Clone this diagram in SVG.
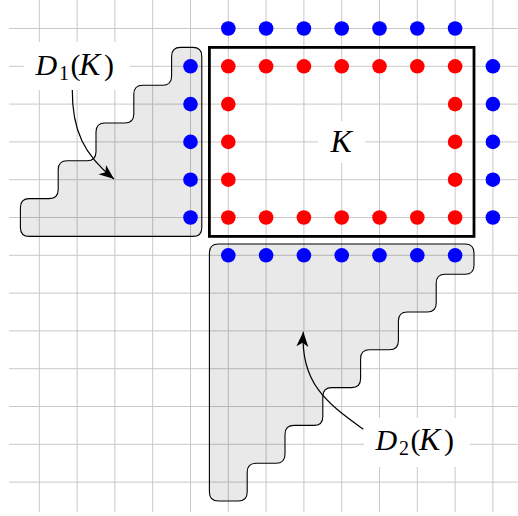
<svg xmlns="http://www.w3.org/2000/svg" width="518" height="516" viewBox="0 0 518 516">
<defs>
<style>
.grid line{stroke:#c8c8c8;stroke-width:1}
.region{fill:#000;fill-opacity:0.085;stroke:#000;stroke-width:1.1;stroke-linejoin:round}
.red{fill:#ff0000}
.blue{fill:#0000ff}
.lbl{font-family:"Liberation Serif","DejaVu Serif",serif;font-size:30px;fill:#000}
.it{font-style:italic}
.big{font-size:32px}
.sub{font-size:20px}
.box{fill:#fff}
.conn{fill:none;stroke:#000;stroke-width:1.2}
</style>
<marker id="stealth" viewBox="0 0 16 14" refX="15" refY="7" markerWidth="16" markerHeight="14" markerUnits="userSpaceOnUse" orient="auto">
<path d="M15,7 L0,1 L4,7 L0,13 Z" fill="#000"/>
</marker>
</defs>
<rect width="518" height="516" fill="#fff"/>
<g id="grid" class="grid">
<line x1="39.3" y1="0" x2="39.3" y2="511.7"/>
<line x1="77.1" y1="0" x2="77.1" y2="511.7"/>
<line x1="114.9" y1="0" x2="114.9" y2="511.7"/>
<line x1="152.7" y1="0" x2="152.7" y2="511.7"/>
<line x1="190.5" y1="0" x2="190.5" y2="511.7"/>
<line x1="228.3" y1="0" x2="228.3" y2="511.7"/>
<line x1="266.1" y1="0" x2="266.1" y2="511.7"/>
<line x1="303.9" y1="0" x2="303.9" y2="511.7"/>
<line x1="341.7" y1="0" x2="341.7" y2="511.7"/>
<line x1="379.5" y1="0" x2="379.5" y2="511.7"/>
<line x1="417.3" y1="0" x2="417.3" y2="511.7"/>
<line x1="455.1" y1="0" x2="455.1" y2="511.7"/>
<line x1="492.9" y1="0" x2="492.9" y2="511.7"/>
<line x1="9" y1="28.5" x2="518" y2="28.5"/>
<line x1="9" y1="66.3" x2="518" y2="66.3"/>
<line x1="9" y1="104.1" x2="518" y2="104.1"/>
<line x1="9" y1="141.9" x2="518" y2="141.9"/>
<line x1="9" y1="179.7" x2="518" y2="179.7"/>
<line x1="9" y1="217.5" x2="518" y2="217.5"/>
<line x1="9" y1="255.3" x2="518" y2="255.3"/>
<line x1="9" y1="293.1" x2="518" y2="293.1"/>
<line x1="9" y1="330.9" x2="518" y2="330.9"/>
<line x1="9" y1="368.7" x2="518" y2="368.7"/>
<line x1="9" y1="406.5" x2="518" y2="406.5"/>
<line x1="9" y1="444.3" x2="518" y2="444.3"/>
<line x1="9" y1="482.1" x2="518" y2="482.1"/>
</g>
<g id="D1-region">
<path class="region" d="M192.8,47.4 L180.6,47.4 Q171.6,47.4 171.6,56.4 L171.6,76.2 Q171.6,85.2 162.6,85.2 L142.8,85.2 Q133.8,85.2 133.8,94.2 L133.8,114 Q133.8,123 124.8,123 L105,123 Q96,123 96,132 L96,151.8 Q96,160.8 87,160.8 L67.2,160.8 Q58.2,160.8 58.2,169.8 L58.2,189.6 Q58.2,198.6 49.2,198.6 L29.4,198.6 Q20.4,198.6 20.4,207.6 L20.4,227.4 Q20.4,236.4 29.4,236.4 L192.8,236.4 Q201.8,236.4 201.8,227.4 L201.8,56.4 Q201.8,47.4 192.8,47.4 Z"/>
</g>
<g id="D2-region">
<path class="region" d="M218.4,244 L465,244 Q474,244 474,253 L474,265.2 Q474,274.2 465,274.2 L445.2,274.2 Q436.2,274.2 436.2,283.2 L436.2,303 Q436.2,312 427.2,312 L407.4,312 Q398.4,312 398.4,321 L398.4,340.8 Q398.4,349.8 389.4,349.8 L369.6,349.8 Q360.6,349.8 360.6,358.8 L360.6,378.6 Q360.6,387.6 351.6,387.6 L331.8,387.6 Q322.8,387.6 322.8,396.6 L322.8,416.4 Q322.8,425.4 313.8,425.4 L294,425.4 Q285,425.4 285,434.4 L285,454.2 Q285,463.2 276,463.2 L256.2,463.2 Q247.2,463.2 247.2,472.2 L247.2,492 Q247.2,501 238.2,501 L218.4,501 Q209.4,501 209.4,492 L209.4,253 Q209.4,244 218.4,244 Z"/>
</g>
<g id="K-set">
<rect x="209.4" y="47.4" width="264.6" height="189" fill="none" stroke="#000" stroke-width="2.8"/>
</g>
<g id="red-dots" class="red">
<circle cx="228.3" cy="66.3" r="7.3"/>
<circle cx="266.1" cy="66.3" r="7.3"/>
<circle cx="303.9" cy="66.3" r="7.3"/>
<circle cx="341.7" cy="66.3" r="7.3"/>
<circle cx="379.5" cy="66.3" r="7.3"/>
<circle cx="417.3" cy="66.3" r="7.3"/>
<circle cx="455.1" cy="66.3" r="7.3"/>
<circle cx="228.3" cy="217.5" r="7.3"/>
<circle cx="266.1" cy="217.5" r="7.3"/>
<circle cx="303.9" cy="217.5" r="7.3"/>
<circle cx="341.7" cy="217.5" r="7.3"/>
<circle cx="379.5" cy="217.5" r="7.3"/>
<circle cx="417.3" cy="217.5" r="7.3"/>
<circle cx="455.1" cy="217.5" r="7.3"/>
<circle cx="228.3" cy="104.1" r="7.3"/>
<circle cx="228.3" cy="141.9" r="7.3"/>
<circle cx="228.3" cy="179.7" r="7.3"/>
<circle cx="455.1" cy="104.1" r="7.3"/>
<circle cx="455.1" cy="141.9" r="7.3"/>
<circle cx="455.1" cy="179.7" r="7.3"/>
</g>
<g id="blue-dots" class="blue">
<circle cx="228.3" cy="28.5" r="7.3"/>
<circle cx="266.1" cy="28.5" r="7.3"/>
<circle cx="303.9" cy="28.5" r="7.3"/>
<circle cx="341.7" cy="28.5" r="7.3"/>
<circle cx="379.5" cy="28.5" r="7.3"/>
<circle cx="417.3" cy="28.5" r="7.3"/>
<circle cx="455.1" cy="28.5" r="7.3"/>
<circle cx="228.3" cy="255.3" r="7.3"/>
<circle cx="266.1" cy="255.3" r="7.3"/>
<circle cx="303.9" cy="255.3" r="7.3"/>
<circle cx="341.7" cy="255.3" r="7.3"/>
<circle cx="379.5" cy="255.3" r="7.3"/>
<circle cx="417.3" cy="255.3" r="7.3"/>
<circle cx="455.1" cy="255.3" r="7.3"/>
<circle cx="190.5" cy="66.3" r="7.3"/>
<circle cx="190.5" cy="104.1" r="7.3"/>
<circle cx="190.5" cy="141.9" r="7.3"/>
<circle cx="190.5" cy="179.7" r="7.3"/>
<circle cx="190.5" cy="217.5" r="7.3"/>
<circle cx="492.9" cy="66.3" r="7.3"/>
<circle cx="492.9" cy="104.1" r="7.3"/>
<circle cx="492.9" cy="141.9" r="7.3"/>
<circle cx="492.9" cy="179.7" r="7.3"/>
<circle cx="492.9" cy="217.5" r="7.3"/>
</g>
<g id="connectors">
<path class="conn" d="M72.3,90 C72,130 84,155 114,179" marker-end="url(#stealth)"/>
<path class="conn" d="M363.3,429.3 C330,405 300,385 303.3,331.7" marker-end="url(#stealth)"/>
</g>
<g id="label-K">
<rect class="box" x="318" y="121" width="47" height="42"/>
<text class="lbl it big" x="330.5" y="152">K</text>
</g>
<g id="label-D1">
<rect class="box" x="24" y="42" width="106" height="48"/>
<text class="lbl" y="75"><tspan class="it" x="35.5">D</tspan><tspan class="sub" x="59" dy="4.5">1</tspan><tspan x="70.5" dy="-4.5">(</tspan><tspan class="it big" x="79">K</tspan><tspan x="104">)</tspan></text>
</g>
<g id="label-D2">
<rect class="box" x="364" y="418" width="106" height="49"/>
<text class="lbl" y="450"><tspan class="it" x="375.5">D</tspan><tspan class="sub" x="399" dy="4.5">2</tspan><tspan x="410.5" dy="-4.5">(</tspan><tspan class="it big" x="419">K</tspan><tspan x="444">)</tspan></text>
</g>
</svg>
